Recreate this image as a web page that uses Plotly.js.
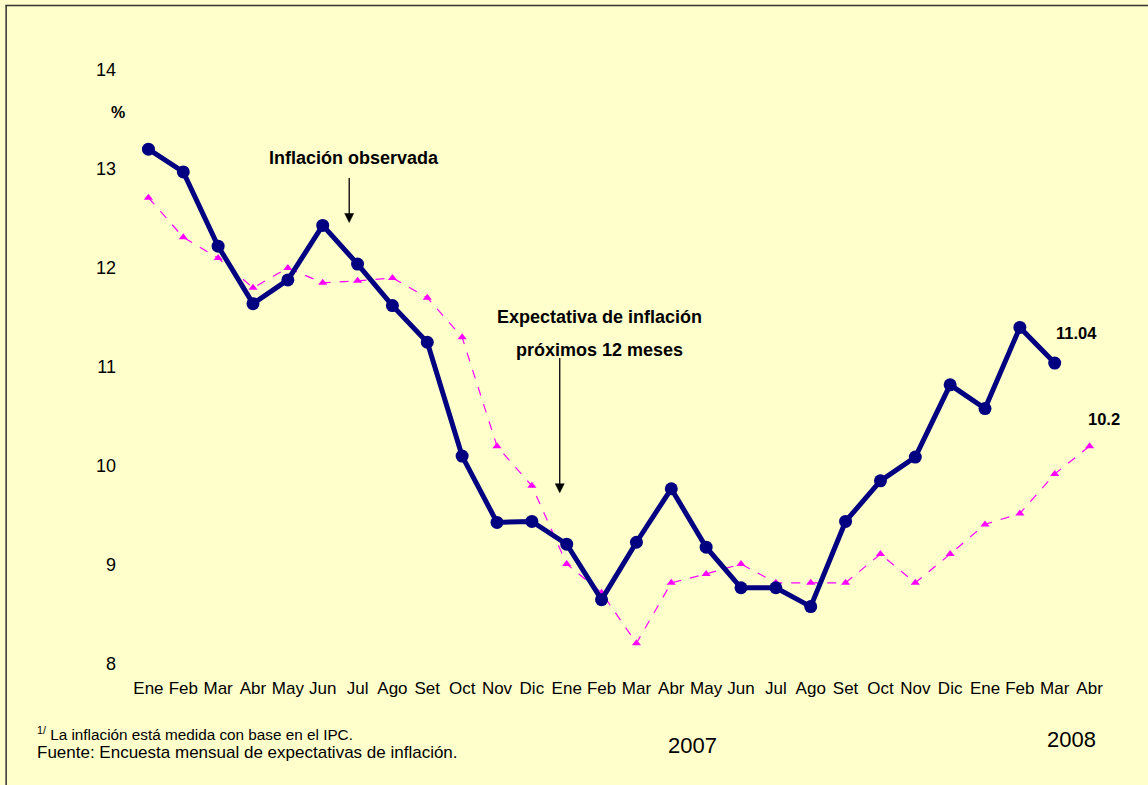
<!DOCTYPE html>
<html>
<head>
<meta charset="utf-8">
<script src="https://cdn.plot.ly/plotly-3.0.1.min.js"></script>
<style>
  html, body { margin: 0; padding: 0; background: #FFFFCC; }
  #chart { width: 1148px; height: 785px; }
</style>
</head>
<body>
<div id="chart"></div>
<script>
const months = ["Ene","Feb","Mar","Abr","May","Jun","Jul","Ago","Set","Oct","Nov","Dic",
                "Ene","Feb","Mar","Abr","May","Jun","Jul","Ago","Set","Oct","Nov","Dic",
                "Ene","Feb","Mar","Abr"];
const observed = [13.20, 12.97, 12.22, 11.64, 11.88, 12.43, 12.04, 11.62, 11.25, 10.10, 9.43, 9.44,
                  9.21, 8.65, 9.23, 9.77, 9.18, 8.77, 8.77, 8.58, 9.44, 9.85, 10.09, 10.82,
                  10.58, 11.40, 11.04];
const expected = [12.71, 12.31, 12.10, 11.80, 12.00, 11.85, 11.87, 11.90, 11.70, 11.30, 10.20, 9.80,
                  9.01, 8.72, 8.21, 8.82, 8.91, 9.01, 8.82, 8.82, 8.82, 9.11, 8.82, 9.11,
                  9.41, 9.52, 9.92, 10.20];
const yTicks = [8, 9, 10, 11, 12, 13, 14];

const idx = months.map((m, i) => i);

const font = "Liberation Sans, Arial, sans-serif";

const traces = [
  {
    x: idx.slice(0, expected.length), y: expected, type: "scatter", mode: "lines+markers",
    line: { color: "#FF00FF", width: 1.2, dash: "dash" },
    marker: { symbol: "triangle-up", size: 8, color: "#FF00FF" },
    cliponaxis: false, hoverinfo: "skip"
  },
  {
    x: idx.slice(0, observed.length), y: observed, type: "scatter", mode: "lines+markers",
    line: { color: "#000080", width: 5 },
    marker: { symbol: "circle", size: 13, color: "#000080" },
    cliponaxis: false, hoverinfo: "skip"
  }
];

const lastObs = observed[observed.length - 1];
const lastExp = expected[expected.length - 1];

function arrowShapes(xv, yTail, yTip) {
  return [
    { type: "line", xref: "x", yref: "y", x0: xv, x1: xv, y0: yTail, y1: yTip + 0.06,
      line: { color: "#000000", width: 1.3 } },
    { type: "path", xref: "x", yref: "y", xsizemode: "pixel", ysizemode: "pixel",
      xanchor: xv, yanchor: yTip, path: "M -4.5,9 L 4.5,9 L 0,0 Z",
      fillcolor: "#000000", line: { color: "#000000", width: 0.5 } }
  ];
}

const layout = {
  width: 1148, height: 785,
  paper_bgcolor: "#FFFFCC", plot_bgcolor: "#FFFFCC",
  margin: { l: 130.5, r: 40.5, t: 70, b: 121 },
  showlegend: false,
  font: { family: font, color: "#000000" },
  xaxis: {
    type: "linear", range: [-0.5, 27.5],
    tickmode: "array", tickvals: idx, ticktext: months,
    showgrid: false, zeroline: false, showline: false, ticks: "",
    tickfont: { size: 17, family: font, color: "#000" },
    ticklabelstandoff: 12
  },
  yaxis: {
    range: [8, 14], tickmode: "array", tickvals: yTicks, ticktext: yTicks.map(String),
    showgrid: false, zeroline: false, showline: false, ticks: "",
    tickfont: { size: 18, family: font, color: "#000" },
    ticklabelstandoff: 14
  },
  annotations: [
    { xref: "paper", yref: "paper", x: -0.0138, y: 0.929, xanchor: "center", yanchor: "middle",
      text: "<b>%</b>", showarrow: false, font: { size: 16, family: font } },
    { xref: "x", yref: "y", x: 5.9, y: 13.11, xanchor: "center", yanchor: "middle",
      text: "<b>Inflación observada</b>", showarrow: false, font: { size: 18, family: font } },
    { xref: "x", yref: "y", x: 12.95, y: 11.505, xanchor: "center", yanchor: "middle",
      text: "<b>Expectativa de inflación</b>", showarrow: false, font: { size: 18, family: font } },
    { xref: "x", yref: "y", x: 12.95, y: 11.17, xanchor: "center", yanchor: "middle",
      text: "<b>próximos 12 meses</b>", showarrow: false, font: { size: 18, family: font } },
    { xref: "x", yref: "y", x: 26.62, y: lastObs + 0.30, xanchor: "center", yanchor: "middle",
      text: "<b>" + lastObs.toFixed(2) + "</b>", showarrow: false, font: { size: 16.5, family: font } },
    { xref: "x", yref: "y", x: 27.42, y: lastExp + 0.27, xanchor: "center", yanchor: "middle",
      text: "<b>" + String(lastExp) + "</b>", showarrow: false, font: { size: 16.5, family: font } },
    { xref: "paper", yref: "paper", x: -0.0985, y: -0.1178, xanchor: "left", yanchor: "middle",
      text: "<sup>1/</sup> La inflación está medida con base en el IPC.", showarrow: false,
      font: { size: 15.3, family: font } },
    { xref: "paper", yref: "paper", x: -0.0985, y: -0.1498, xanchor: "left", yanchor: "middle",
      text: "Fuente: Encuesta mensual de expectativas de inflación.", showarrow: false,
      font: { size: 17, family: font } },
    { xref: "paper", yref: "paper", x: 0.5757, y: -0.138, xanchor: "center", yanchor: "middle",
      text: "2007", showarrow: false, font: { size: 22, family: font } },
    { xref: "paper", yref: "paper", x: 0.9636, y: -0.1263, xanchor: "center", yanchor: "middle",
      text: "2008", showarrow: false, font: { size: 22, family: font } }
  ],
  shapes: [
    ...arrowShapes(5.76, 12.91, 12.46),
    ...arrowShapes(11.8, 11.09, 9.73),
    { type: "line", xref: "paper", yref: "paper",
      x0: (5 - 130.5) / 977, x1: 1.05, y0: (664 - 5.5) / 594, y1: (664 - 5.5) / 594,
      line: { color: "#333333", width: 1.5 } },
    { type: "line", xref: "paper", yref: "paper",
      x0: (5.5 - 130.5) / 977, x1: (5.5 - 130.5) / 977, y0: (664 - 5) / 594, y1: (664 - 790) / 594,
      line: { color: "#333333", width: 1.5 } }
  ]
};

Plotly.newPlot("chart", traces, layout, { staticPlot: true, displayModeBar: false });
</script>
</body>
</html>
